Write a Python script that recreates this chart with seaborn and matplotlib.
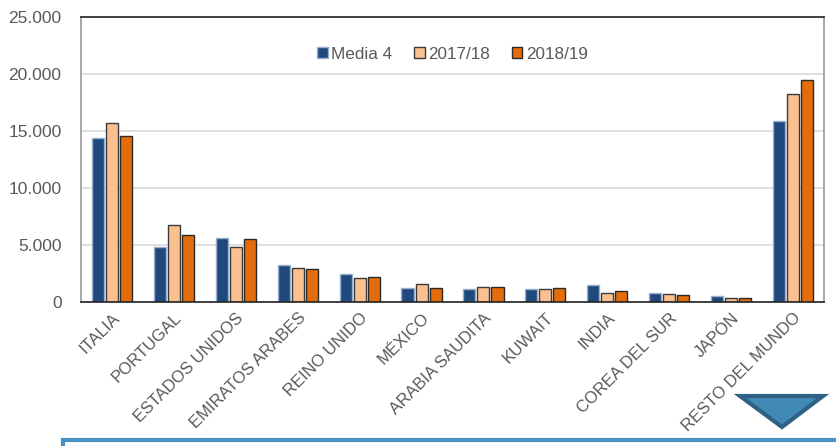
import numpy as np
import pandas as pd
import matplotlib.pyplot as plt
import seaborn as sns
from matplotlib.patches import Polygon, Rectangle
from matplotlib.ticker import FuncFormatter

# ── Data ───────────────────────────────────────────────────────────────────────
countries = ["ITALIA", "PORTUGAL", "ESTADOS UNIDOS", "EMIRATOS ARABES", "REINO UNIDO",
             "MÉXICO", "ARABIA SAUDITA", "KUWAIT", "INDIA", "COREA DEL SUR", "JAPÓN",
             "RESTO DEL MUNDO"]
series = ["Media 4", "2017/18", "2018/19"]
media_4 = [14360, 4830, 5610, 3250, 2460, 1230, 1170, 1170, 1490, 790, 555, 15880]
v_2017_18 = [15680, 6780, 4830, 3010, 2130, 1560, 1345, 1170, 760, 670, 350, 18250]
v_2018_19 = [14560, 5850, 5530, 2900, 2220, 1220, 1345, 1260, 990, 615, 350, 19470]

colors = ["#1F497D", "#FAC090", "#E46C0A"]
edges = ["#9BB0CC", "#3a3a3a", "#2a2a2a"]

df = pd.DataFrame({
    "pais": countries * 3,
    "serie": np.repeat(series, len(countries)),
    "valor": media_4 + v_2017_18 + v_2018_19,
})

sns.set_theme(style="white")
plt.rcParams["font.family"] = ["Liberation Sans", "DejaVu Sans"]

fig = plt.figure(figsize=(8.37, 4.46), dpi=100)
ax = fig.add_axes([81 / 837, 1 - 302 / 446, 743 / 837, 285 / 446])

sns.barplot(data=df, x="pais", y="valor", hue="serie", hue_order=series,
            palette=colors, saturation=1, width=0.68, gap=0.14, ax=ax, legend=False,
            linewidth=1.0, edgecolor="#333333")

# edge colours per series
for i, cont in enumerate(ax.containers):
    for bar in cont:
        bar.set_edgecolor(edges[i])

ax.set_ylim(0, 25000)
ax.set_xlim(-0.5, len(countries) - 0.5)
ax.set_yticks(range(0, 25001, 5000))
ax.yaxis.set_major_formatter(FuncFormatter(lambda v, p: f"{int(v):,}".replace(",", ".")))
ax.yaxis.grid(True, color="#D9D9D9", linewidth=1.2)
ax.set_axisbelow(True)
ax.set_xlabel("")
ax.set_ylabel("")
ax.tick_params(axis="both", length=0, colors="#595959")
ax.tick_params(axis="y", labelsize=12.5, pad=14)
ax.set_xticks(range(len(countries)))
ax.set_xticklabels(countries, rotation=45, ha="right", rotation_mode="anchor",
                   fontsize=12, color="#595959")
ax.tick_params(axis="x", pad=6)

ax.spines["top"].set_color("#222222")
ax.spines["bottom"].set_color("#222222")
ax.spines["left"].set_color("#9a9a9a")
ax.spines["right"].set_color("#9a9a9a")
for s in ax.spines.values():
    s.set_linewidth(1.2)

# legend
handles = [Rectangle((0, 0), 1, 1, facecolor=c, edgecolor=e, linewidth=1.0)
           for c, e in zip(colors, edges)]
leg = ax.legend(handles, series, loc="center", bbox_to_anchor=(0.5, 0.87), ncol=3,
                frameon=False, fontsize=12.3, handlelength=0.6, handleheight=0.6,
                handletextpad=0.2, columnspacing=1.3)
for t in leg.get_texts():
    t.set_color("#595959")

# decoration below the chart
box = Rectangle((63 / 837, -0.1), 1.0, 1 - 440 / 446 + 0.1, transform=fig.transFigure,
                facecolor="white", edgecolor="#4A8FC1", linewidth=3)
fig.add_artist(box)
tri = Polygon([(740 / 837, 1 - 396 / 446), (823 / 837, 1 - 396 / 446),
               (782 / 837, 1 - 427 / 446)], closed=True, transform=fig.transFigure,
              facecolor="#418AB6", edgecolor="#2E6285", linewidth=3)
fig.add_artist(tri)

fig.savefig("out.png", dpi=100)
plt.close(fig)
